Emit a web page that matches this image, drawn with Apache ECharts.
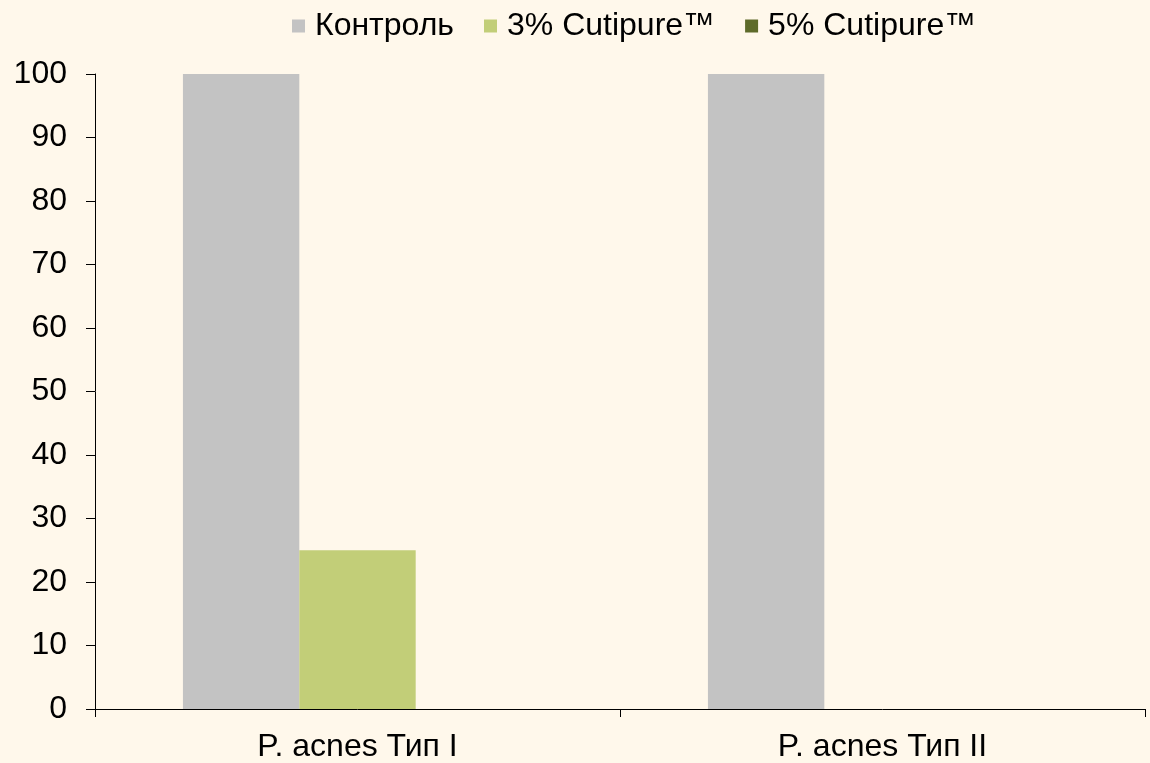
<!DOCTYPE html>
<html>
<head>
<meta charset="utf-8">
<script src="https://cdn.jsdelivr.net/npm/echarts@6/dist/echarts.min.js"></script>
<style>
  html, body { margin: 0; padding: 0; background: #fff8eb; }
  #chart { width: 1150px; height: 763px; }
</style>
</head>
<body>
<div id="chart"></div>
<script>
const categories = ['P. acnes Тип I', 'P. acnes Тип II']
const seriesNames = ['Контроль', '3% Cutipure™', '5% Cutipure™']
const control = [100, 100]
const cutipure3 = [25, 0]
const cutipure5 = [0, 0]
const colors = ['#c3c3c3', '#c2ce78', '#5e6b2a']

const font = '"Liberation Sans", Arial, sans-serif'
const chart = echarts.init(document.getElementById('chart'))

chart.setOption({
  backgroundColor: '#fff8eb',
  color: colors,
  legend: {
    top: 5,
    left: 287,
    itemWidth: 13,
    itemHeight: 13,
    itemGap: 30,
    icon: 'rect',
    textStyle: { fontFamily: font, fontSize: 32, color: '#000', padding: [0, 0, 0, 5] },
    data: seriesNames
  },
  grid: { left: 95, right: 5, top: 74, bottom: 54 },
  xAxis: {
    type: 'category',
    data: categories,
    axisLine: { lineStyle: { color: '#000', width: 1 } },
    axisTick: { show: true, length: 8, lineStyle: { color: '#000' } },
    axisLabel: { fontFamily: font, fontSize: 32, color: '#000', margin: 22 }
  },
  yAxis: {
    type: 'value',
    min: 0,
    max: 100,
    interval: 10,
    axisLine: { show: true, lineStyle: { color: '#000', width: 1 } },
    axisTick: { show: true, length: 9, lineStyle: { color: '#000' } },
    splitLine: { show: false },
    axisLabel: { fontFamily: font, fontSize: 32, color: '#000', margin: 28 }
  },
  series: [
    { name: seriesNames[0], type: 'bar', data: control, barGap: 0, barCategoryGap: '33.5%' },
    { name: seriesNames[1], type: 'bar', data: cutipure3, barGap: 0, barCategoryGap: '33.5%' },
    { name: seriesNames[2], type: 'bar', data: cutipure5, barGap: 0, barCategoryGap: '33.5%' }
  ]
})
</script>
</body>
</html>
